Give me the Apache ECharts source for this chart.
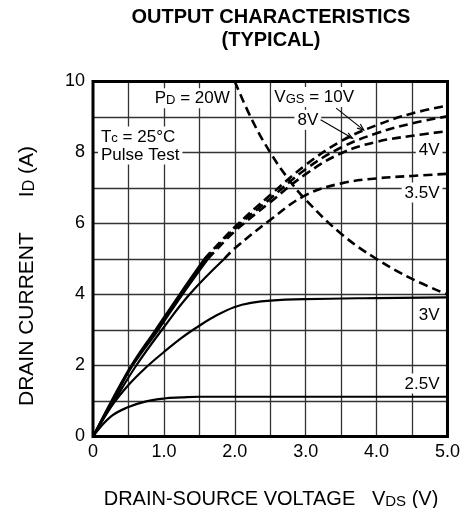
<!DOCTYPE html>
<html><head><meta charset="utf-8">
<script src="https://cdn.jsdelivr.net/npm/echarts@6/dist/echarts.min.js"></script>
<style>html,body{margin:0;padding:0;background:#fff}#c{width:463px;height:508px}</style>
</head><body><div id="c"></div>
<script>
// ---- Data ----
const xTickValues = [0, 1, 2, 3, 4, 5];
const xTickLabels = ['0', '1.0', '2.0', '3.0', '4.0', '5.0'];
const yTickValues = [0, 2, 4, 6, 8, 10];
const yTickLabels = ['0', '2', '4', '6', '8', '10'];

// VDS (V), ID (A): solid part and dashed part of each VGS curve
const vgs10Solid = [[0,0],[0.26,1],[0.54,2],[0.88,3],[1.22,4],[1.57,5]];
const vgs10Dash  = [[1.57,5],[2.0,5.9],[2.5,6.8],[3.0,7.65],[3.5,8.32],[4.0,8.77],[4.5,9.1],[5.0,9.32]];
const vgs8Solid  = [[0,0],[0.27,1],[0.55,2],[0.9,3],[1.24,4],[1.59,5]];
const vgs8Dash   = [[1.59,5],[2.0,5.85],[2.5,6.7],[3.0,7.53],[3.5,8.14],[4.0,8.54],[4.5,8.82],[5.0,9.02]];
const vgs4Solid  = [[0,0],[0.28,1],[0.56,2],[0.92,3],[1.26,4],[1.62,5]];
const vgs4Dash   = [[1.62,5],[2.0,5.78],[2.5,6.6],[3.0,7.39],[3.5,7.98],[4.0,8.3],[4.5,8.47],[5.0,8.6]];
const vgs35Solid = [[0,0],[0.3,1],[0.61,2],[0.97,3],[1.36,4],[1.85,5]];
const vgs35Dash  = [[1.85,5],[2.0,5.3],[2.5,6.1],[3.0,6.8],[3.5,7.13],[4.0,7.27],[4.5,7.34],[5.0,7.4]];
const vgs3       = [[0,0],[0.25,0.82],[0.5,1.45],[0.75,1.95],[1.0,2.38],[1.25,2.78],[1.5,3.12],[1.75,3.42],[2.0,3.65],[2.25,3.77],[2.5,3.83],[3.0,3.87],[4.0,3.9],[5.0,3.92]];
const vgs25      = [[0,0],[0.25,0.56],[0.5,0.83],[0.75,0.99],[1.0,1.07],[1.25,1.1],[1.5,1.12],[5.0,1.12]];
const pd20W      = [[2.0,10],[2.25,8.89],[2.5,8.0],[2.75,7.27],[3.0,6.67],[3.5,5.71],[4.0,5.0],[4.5,4.44],[5.0,4.0]];

// ---- Chart ----
const FONT = '"Liberation Sans", Arial, Helvetica, sans-serif';
const chart = echarts.init(document.getElementById('c'), null, {renderer: 'canvas'});

const solidStyle = {color: '#000', width: 2.2, type: 'solid'};
const dashStyle = {color: '#000', width: 2.6, type: [9, 5]};
function ser(data, dashed) {
  return {
    type: 'line', data: data, symbol: 'none', showSymbol: false,
    smooth: 0.4, silent: true, animation: false,
    lineStyle: dashed ? dashStyle : solidStyle, z: 3
  };
}

const gridL = 93, gridT = 81.5, gridW = 356, gridH = 355;

chart.setOption({
  animation: false,
  backgroundColor: '#fff',
  grid: {left: gridL, top: gridT, width: gridW, height: gridH, show: false, containLabel: false},
  xAxis: {
    type: 'value', min: 0, max: 5, interval: 0.5,
    axisLine: {show: false}, axisTick: {show: false},
    axisLabel: {
      show: true, margin: 7, color: '#000', fontFamily: FONT, fontSize: 18,
      showMinLabel: true, showMaxLabel: true, hideOverlap: false,
      formatter: function (v) {
        const i = xTickValues.findIndex(t => Math.abs(t - v) < 1e-6);
        return i >= 0 ? xTickLabels[i] : '';
      }
    },
    splitLine: {show: true, showMinLine: false, showMaxLine: false, lineStyle: {color: '#333', width: 1.3}}
  },
  yAxis: {
    type: 'value', min: 0, max: 10, interval: 1,
    axisLine: {show: false}, axisTick: {show: false},
    axisLabel: {
      show: true, margin: 8, color: '#000', fontFamily: FONT, fontSize: 18,
      showMinLabel: true, showMaxLabel: true, hideOverlap: false,
      formatter: function (v) {
        const i = yTickValues.findIndex(t => Math.abs(t - v) < 1e-6);
        return i >= 0 ? yTickLabels[i] : '';
      }
    },
    splitLine: {show: true, showMinLine: false, showMaxLine: false, lineStyle: {color: '#333', width: 1.3}}
  },
  series: [
    ser(vgs10Solid, false), ser(vgs10Dash, true),
    ser(vgs8Solid, false), ser(vgs8Dash, true),
    ser(vgs4Solid, false), ser(vgs4Dash, true),
    ser(vgs35Solid, false), ser(vgs35Dash, true),
    ser(vgs3, false), ser(vgs25, false),
    ser(pd20W, true)
  ]
});

function P(v, a) { return chart.convertToPixel({gridIndex: 0}, [v, a]); }

const rich = {
  n: {fontSize: 17, fontFamily: FONT, fill: '#000', verticalAlign: 'bottom', lineHeight: 18},
  s: {fontSize: 13, fontFamily: FONT, fill: '#000', verticalAlign: 'bottom', lineHeight: 16}
};
const richBig = {
  n: {fontSize: 20, fontFamily: FONT, fill: '#000', verticalAlign: 'bottom', lineHeight: 22},
  s: {fontSize: 15, fontFamily: FONT, fill: '#000', verticalAlign: 'bottom', lineHeight: 18}
};
function label(text, v, a, align) {
  const p = P(v, a);
  return {
    type: 'text', x: p[0], y: p[1], z: 100, silent: true,
    style: {text: text, rich: rich, fontSize: 17, fontFamily: FONT, fill: '#000',
            align: align || 'center', verticalAlign: 'middle',
            backgroundColor: '#fff', padding: [1, 3, 1, 3]}
  };
}
function arrow(v1, a1, v2, a2) {
  const p1 = P(v1, a1), p2 = P(v2, a2);
  const ang = Math.atan2(p2[1] - p1[1], p2[0] - p1[0]);
  const L = 7, w = 0.38;
  const h1 = [p2[0] - L * Math.cos(ang - w), p2[1] - L * Math.sin(ang - w)];
  const h2 = [p2[0] - L * Math.cos(ang + w), p2[1] - L * Math.sin(ang + w)];
  return [
    {type: 'polyline', z: 101, silent: true, shape: {points: [p1, p2]}, style: {stroke: '#000', lineWidth: 1.1, fill: null}},
    {type: 'polyline', z: 101, silent: true, shape: {points: [h1, p2, h2]}, style: {stroke: '#000', lineWidth: 1.1, fill: null}}
  ];
}

const c0 = P(0, 0), c1 = P(5, 10);
const graphics = [
  // Plot frame
  {type: 'rect', z: 90, silent: true,
   shape: {x: c0[0], y: c1[1], width: c1[0] - c0[0], height: c0[1] - c1[1]},
   style: {fill: null, stroke: '#000', lineWidth: 3}},
  // Title
  {type: 'text', x: 271, y: 17, z: 100, style: {text: 'OUTPUT CHARACTERISTICS', font: 'bold 20px ' + FONT, fill: '#000', align: 'center', verticalAlign: 'middle'}},
  {type: 'text', x: 271, y: 40, z: 100, style: {text: '(TYPICAL)', font: 'bold 20px ' + FONT, fill: '#000', align: 'center', verticalAlign: 'middle'}},
  // Axis titles
  {type: 'text', x: 271, y: 498, z: 100, style: {
    text: '{n|DRAIN-SOURCE VOLTAGE   V}{s|DS}{n| (V)}', rich: richBig,
    align: 'center', verticalAlign: 'middle'}},
  {type: 'text', x: 26, y: 276, rotation: Math.PI / 2, z: 100, style: {
    text: '{n|DRAIN CURRENT      I}{s|D}{n| (A)}',
    rich: {n: {fontSize: 21, fontFamily: FONT, fill: '#000', verticalAlign: 'bottom', lineHeight: 23},
           s: {fontSize: 16, fontFamily: FONT, fill: '#000', verticalAlign: 'bottom', lineHeight: 19}},
    align: 'center', verticalAlign: 'middle'}},
  // Annotations
  label('{n|P}{s|D}{n| = 20W}', 1.40, 9.53),
  label('{n|V}{s|GS}{n| = 10V}', 3.12, 9.56),
  label('{n|8V}', 3.03, 8.92),
  label('{n|T}{s|c}{n| = 25°C}\n{n|Pulse Test}', 0.07, 8.2, 'left'),
  label('{n|4V}', 4.93, 8.07, 'right'),
  label('{n|3.5V}', 4.93, 6.87, 'right'),
  label('{n|3V}', 4.93, 3.42, 'right'),
  label('{n|2.5V}', 4.93, 1.49, 'right')
].concat(arrow(3.43, 9.25, 3.82, 8.63), arrow(3.21, 8.92, 3.66, 8.40));

chart.setOption({graphic: graphics});
</script>
</body></html>
